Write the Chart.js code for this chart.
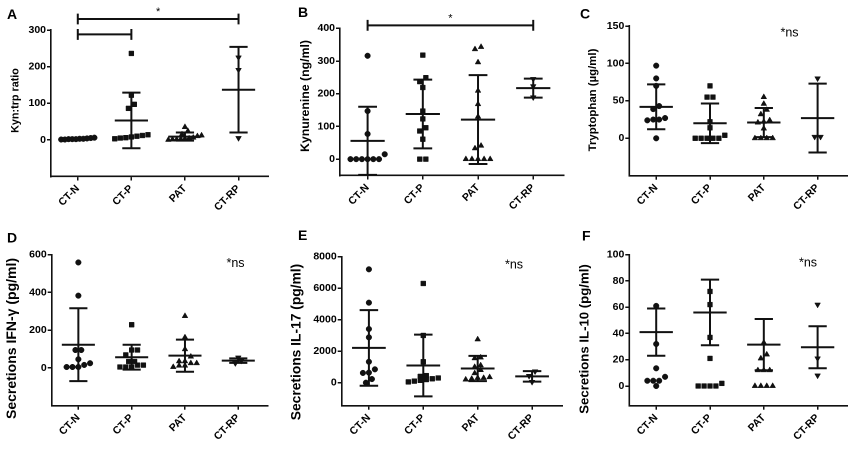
<!DOCTYPE html>
<html><head><meta charset="utf-8">
<script src="https://cdn.jsdelivr.net/npm/chart.js@4.4.1/dist/chart.umd.min.js"></script>
<style>
html,body{margin:0;padding:0;background:#fff;}
#wrap{position:relative;width:856px;height:449px;overflow:hidden;background:#fff;}
.panel{position:absolute;}
</style></head><body><div id="wrap"></div>
<script>
// ---------- DATA ----------
const GROUPS = ['CT-N', 'CT-P', 'PAT', 'CT-RP'];

// A: Kyn:trp ratio
const KYNTRP = [
  [1, 3, 2, 5, 4, 6, 3, 2, 1, 2],
  [236, 122, 97, 86, 14, 10, 6, 3, 5, 8, 12],
  [35, 24, 15, 12, 10, 6, 4, 2, 1, 0, 1, 3],
  [225, 191, 5]
];
const KYNTRP_MEAN = [2, 53, 9, 137];
const KYNTRP_SD = [2, 76, 11, 117];
const KYNTRP_TICKS = [0, 100, 200, 300];
const KYNTRP_SIG = [
  { from: 'CT-N', to: 'CT-RP', level: 330, label: '*' },
  { from: 'CT-N', to: 'CT-P', level: 288, label: '' }
];

// B: Kynurenine (ng/ml)
const KYN = [
  [316, 147, 77, 15, 0, 0, 0, 0, 0, 0],
  [318, 249, 237, 219, 147, 123, 96, 86, 61, 0, 0],
  [343, 336, 296, 209, 168, 130, 41, 33, 0, 0, 0, 0, 0],
  [245, 223, 189]
];
const KYN_MEAN = [56, 138, 121, 217];
const KYN_SD = [104, 105, 136, 29];
const KYN_TICKS = [0, 100, 200, 300, 400];
const KYN_SIG = [{ from: 'CT-N', to: 'CT-RP', level: 409, label: '*' }];

// C: Tryptophan (µg/ml)
const TRP = [
  [97, 80, 70, 43, 39, 27, 25, 25, 24, 0],
  [70, 55, 55, 22, 14, 4, 0, 0, 0, 0, 0],
  [55, 46, 38, 32, 24, 21, 22, 13, 0, 0, 0, 0],
  [80, 2, 2]
];
const TRP_MEAN = [42, 20, 21, 27];
const TRP_SD = [30, 26.5, 19.5, 46];
const TRP_TICKS = [0, 50, 100, 150];

// D: IFN-γ (pg/ml)
const IFNG = [
  [559, 383, 95, 95, 46, 25, 16, 5, 5, 5],
  [229, 95, 95, 69, 34, 34, 15, 5, 5, 5, 15],
  [275, 162, 99, 60, 35, 25, 12, 5, 12, 25, 35],
  [55, 38, 25]
];
const IFNG_MEAN = [123, 57, 65, 39];
const IFNG_SD = [193, 66, 85, 12];
const IFNG_TICKS = [0, 200, 400, 600];

// E: IL-17 (pg/ml)
const IL17 = [
  [7200, 5080, 3410, 2880, 1330, 850, 640, 620, 230, 0],
  [6300, 3000, 1330, 450, 400, 300, 250, 200, 150, 100, 50],
  [2750, 1600, 1550, 1100, 1000, 800, 600, 350, 300, 250, 200, 300],
  [720, 430, 50]
];
const IL17_MEAN = [2210, 1090, 900, 400];
const IL17_SD = [2400, 1960, 800, 335];
const IL17_TICKS = [0, 2000, 4000, 6000, 8000];

// F: IL-10 (pg/ml)
const IL10 = [
  [61, 32, 13.5, 7, 4, 4, 4, 0],
  [72, 62, 37, 21, 2, 0, 0, 0, 0],
  [33, 24, 21, 12, 12, 12, 0, 0, 0, 0],
  [62, 21, 8]
];
const IL10_MEAN = [41, 56, 31.5, 29.5];
const IL10_SD = [18, 25, 19.5, 16];
const IL10_TICKS = [0, 20, 40, 60, 80, 100];

// ---------- LAYOUT / STYLE ----------
const FONT = '"Liberation Sans", Arial, Helvetica, sans-serif';
const INK = '#111';
const MARKERS = [
  { style: 'circle', radius: 2.8, rotation: 0 },
  { style: 'rect', radius: 3.4, rotation: 0 },
  { style: 'triangle', radius: 3.3, rotation: 0 },
  { style: 'triangle', radius: 3.3, rotation: 180 }
];

const PANELS = [
  { letter: 'A', box: [0, 0, 285, 224], area: { l: 51, r: 268, t: 30, b: 176.5 }, letterPos: [7, 19],
    title: 'Kyn:trp ratio', titleSize: 10.8, titlePos: [15.5, 100.5], yMin: -100, ticks: KYNTRP_TICKS,
    values: KYNTRP, mean: KYNTRP_MEAN, sd: KYNTRP_SD, sig: KYNTRP_SIG, ns: null },
  { letter: 'B', box: [285, 0, 285, 224], area: { l: 55, r: 278.6, t: 28.3, b: 175.5 }, letterPos: [13, 17],
    title: 'Kynurenine (ng/ml)', titleSize: 12.3, titlePos: [20.5, 96], yMin: -50, ticks: KYN_TICKS,
    values: KYN, mean: KYN_MEAN, sd: KYN_SD, sig: KYN_SIG, ns: null },
  { letter: 'C', box: [570, 0, 286, 224], area: { l: 59.3, r: 277.2, t: 26, b: 175.7 }, letterPos: [10, 18.3],
    title: 'Tryptophan (µg/ml)', titleSize: 11.4, titlePos: [23, 100], yMin: -50, ticks: TRP_TICKS,
    values: TRP, mean: TRP_MEAN, sd: TRP_SD, sig: [], ns: [219.5, 33] },
  { letter: 'D', box: [0, 224, 285, 225], area: { l: 51.7, r: 267.6, t: 30.7, b: 181.7 }, letterPos: [7, 18.3],
    title: 'Secretions IFN-γ (pg/ml)', titleSize: 14, titlePos: [12, 114.5], yMin: -200, ticks: IFNG_TICKS,
    values: IFNG, mean: IFNG_MEAN, sd: IFNG_SD, sig: [], ns: [235.5, 39.5] },
  { letter: 'E', box: [285, 224, 285, 225], area: { l: 56.7, r: 277, t: 32.7, b: 181.7 }, letterPos: [13, 16],
    title: 'Secretions IL-17 (pg/ml)', titleSize: 13.8, titlePos: [11.7, 118], yMin: -1460, ticks: IL17_TICKS,
    values: IL17, mean: IL17_MEAN, sd: IL17_SD, sig: [], ns: [229, 41] },
  { letter: 'F', box: [570, 224, 286, 225], area: { l: 59.3, r: 277.2, t: 30.7, b: 181.7 }, letterPos: [12, 16.7],
    title: 'Secretions IL-10 (pg/ml)', titleSize: 13.2, titlePos: [14.7, 115], yMin: -15, ticks: IL10_TICKS,
    values: IL10, mean: IL10_MEAN, sd: IL10_SD, sig: [], ns: [238, 39] }
];

const X_MIN = 0.5, X_MAX = 4.55;
const MEAN_HALF = 0.31, CAP_HALF = 0.17;

// spread points with similar values side by side (dot-plot style), computed from the values
function spreadX(values, pos, range) {
  const tol = range * 0.034;
  const order = values.map((v, i) => i).sort((a, b) => values[a] - values[b]);
  const rows = [];
  let cur = [], start = null;
  order.forEach(i => {
    if (cur.length && values[i] - start > tol) { rows.push(cur); cur = []; }
    if (!cur.length) start = values[i];
    cur.push(i);
  });
  if (cur.length) rows.push(cur);
  const xs = [];
  rows.forEach(row => {
    const n = row.length;
    const d = n > 1 ? Math.min(0.11, 0.62 / (n - 1)) : 0;
    row.forEach((idx, k) => { xs[idx] = pos + (k - (n - 1) / 2) * d; });
  });
  return xs;
}

function errorBarData(mean, sd) {
  const pts = [];
  mean.forEach((m, i) => {
    const p = i + 1, s = sd[i];
    pts.push({ x: p - MEAN_HALF, y: m }, { x: p + MEAN_HALF, y: m }, { x: p, y: null });
    pts.push({ x: p, y: m - s }, { x: p, y: m + s }, { x: p, y: null });
    pts.push({ x: p - CAP_HALF, y: m + s }, { x: p + CAP_HALF, y: m + s }, { x: p, y: null });
    pts.push({ x: p - CAP_HALF, y: m - s }, { x: p + CAP_HALF, y: m - s }, { x: p, y: null });
  });
  return pts;
}

function bracketData(sig, range) {
  const t = range * 0.037;
  const pts = [];
  sig.forEach(b => {
    const a = GROUPS.indexOf(b.from) + 1, c = GROUPS.indexOf(b.to) + 1;
    pts.push({ x: a, y: b.level }, { x: c, y: b.level }, { x: c, y: null });
    pts.push({ x: a, y: b.level - t }, { x: a, y: b.level + t }, { x: a, y: null });
    pts.push({ x: c, y: b.level - t }, { x: c, y: b.level + t }, { x: c, y: null });
  });
  return pts;
}

function textPlugin(p) {
  return {
    id: 'panelText' + p.letter,
    afterDraw(chart) {
      const { ctx, scales } = chart;
      ctx.save();
      ctx.fillStyle = '#000';
      ctx.textAlign = 'left';
      ctx.textBaseline = 'alphabetic';
      ctx.font = 'bold 14px ' + FONT;
      ctx.fillText(p.letter, p.letterPos[0], p.letterPos[1]);
      // y-axis title
      ctx.save();
      ctx.translate(p.titlePos[0], p.titlePos[1]);
      ctx.rotate(-Math.PI / 2);
      ctx.textAlign = 'center';
      ctx.textBaseline = 'middle';
      ctx.font = 'bold ' + p.titleSize + 'px ' + FONT;
      ctx.fillText(p.title, 0, 0);
      ctx.restore();
      if (p.ns) {
        ctx.font = '12.5px ' + FONT;
        ctx.textAlign = 'center';
        ctx.textBaseline = 'middle';
        ctx.fillText('*ns', p.ns[0], p.ns[1]);
      }
      p.sig.forEach(b => {
        if (!b.label) return;
        const a = GROUPS.indexOf(b.from) + 1, c = GROUPS.indexOf(b.to) + 1;
        const x = scales.x.getPixelForValue((a + c) / 2);
        const y = scales.y.getPixelForValue(b.level) - 7;
        ctx.font = '11px ' + FONT;
        ctx.textAlign = 'center';
        ctx.textBaseline = 'middle';
        ctx.fillText(b.label, x, y);
      });
      ctx.restore();
    }
  };
}

const wrap = document.getElementById('wrap');
PANELS.forEach(p => {
  const [bx, by, bw, bh] = p.box;
  const div = document.createElement('div');
  div.className = 'panel';
  div.style.left = bx + 'px'; div.style.top = by + 'px';
  div.style.width = bw + 'px'; div.style.height = bh + 'px';
  const cv = document.createElement('canvas');
  cv.width = bw; cv.height = bh;
  cv.style.width = bw + 'px'; cv.style.height = bh + 'px';
  div.appendChild(cv);
  wrap.appendChild(div);

  const yMax = p.ticks[p.ticks.length - 1];
  const range = yMax - p.yMin;
  const datasets = [];
  p.values.forEach((vals, g) => {
    const xs = spreadX(vals, g + 1, range);
    datasets.push({
      label: GROUPS[g],
      data: vals.map((v, i) => ({ x: xs[i], y: v })),
      pointStyle: MARKERS[g].style,
      pointRadius: MARKERS[g].radius,
      pointRotation: MARKERS[g].rotation,
      pointBackgroundColor: INK,
      pointBorderColor: INK,
      pointBorderWidth: 0.5,
      showLine: false
    });
  });
  datasets.push({
    label: 'Mean ± SD',
    data: errorBarData(p.mean, p.sd),
    showLine: true, spanGaps: false, pointRadius: 0,
    borderColor: INK, borderWidth: 2
  });
  if (p.sig.length) {
    datasets.push({
      label: 'Significance',
      data: bracketData(p.sig, range),
      showLine: true, spanGaps: false, pointRadius: 0, clip: false,
      borderColor: INK, borderWidth: 2
    });
  }

  new Chart(cv, {
    type: 'scatter',
    data: { datasets },
    options: {
      responsive: false,
      animation: false,
      devicePixelRatio: 2,
      layout: { padding: { left: 0, top: p.area.t, right: bw - p.area.r, bottom: 0 } },
      plugins: { legend: { display: false }, tooltip: { enabled: false } },
      scales: {
        x: {
          type: 'linear', min: X_MIN, max: X_MAX,
          afterBuildTicks: s => { s.ticks = GROUPS.map((g, i) => ({ value: i + 1 })); },
          afterFit: s => { s.height = bh - p.area.b; },
          ticks: {
            callback: v => GROUPS[Math.round(v) - 1] || '',
            minRotation: 45, maxRotation: 45, autoSkip: false,
            color: '#000', padding: 2,
            font: { family: FONT, size: 10.5, weight: 'bold' }
          },
          grid: { drawOnChartArea: false, drawTicks: true, tickLength: 4, color: INK, lineWidth: 1.5 },
          border: { display: true, color: INK, width: 1.6 }
        },
        y: {
          type: 'linear', min: p.yMin, max: yMax,
          afterBuildTicks: s => { s.ticks = p.ticks.map(v => ({ value: v })); },
          afterFit: s => { s.width = p.area.l; },
          ticks: {
            callback: v => String(v),
            color: '#000', padding: 1,
            font: { family: FONT, size: 10.5, weight: 'bold' }
          },
          grid: { drawOnChartArea: false, drawTicks: true, tickLength: 4, color: INK, lineWidth: 1.5 },
          border: { display: true, color: INK, width: 1.6 },
          title: { display: false }
        }
      }
    },
    plugins: [textPlugin(p)]
  });
});
</script>
</body></html>
